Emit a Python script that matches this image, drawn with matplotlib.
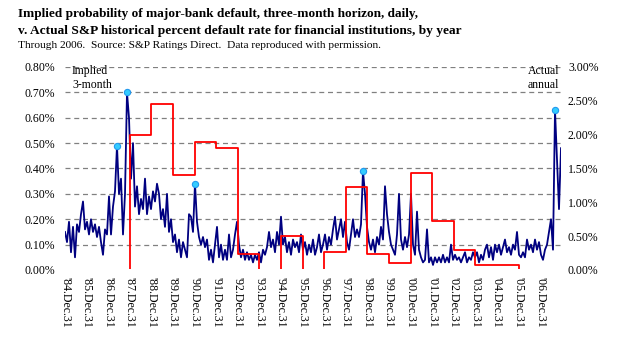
import numpy as np
import matplotlib
matplotlib.use("Agg")
import matplotlib.pyplot as plt
from matplotlib.patches import Rectangle

plt.rcParams['font.family'] = ['Liberation Serif', 'DejaVu Serif']

# implied 3-month default probability (%), late 1984 to 2007
implied = [
    0.15, 0.11, 0.19, 0.07, 0.17, 0.05, 0.18, 0.15, 0.22, 0.27,
    0.16, 0.19, 0.14, 0.20, 0.15, 0.18, 0.13, 0.17, 0.11, 0.06,
    0.16, 0.14, 0.29, 0.14, 0.25, 0.31, 0.49, 0.30, 0.36, 0.14,
    0.30, 0.70, 0.60, 0.36, 0.50, 0.25, 0.33, 0.22, 0.28, 0.24,
    0.36, 0.22, 0.29, 0.24, 0.31, 0.27, 0.34, 0.30, 0.20, 0.24,
    0.17, 0.30, 0.15, 0.20, 0.11, 0.14, 0.07, 0.12, 0.05, 0.11,
    0.08, 0.05, 0.22, 0.21, 0.15, 0.34, 0.19, 0.13, 0.10, 0.13,
    0.09, 0.12, 0.04, 0.08, 0.03, 0.10, 0.17, 0.05, 0.10, 0.04,
    0.08, 0.04, 0.14, 0.05, 0.08, 0.14, 0.19, 0.10, 0.05, 0.08,
    0.04, 0.07, 0.04, 0.06, 0.03, 0.06, 0.04, 0.07, 0.03, 0.08,
    0.06, 0.09, 0.15, 0.09, 0.12, 0.07, 0.15, 0.10, 0.21, 0.10,
    0.13, 0.07, 0.11, 0.06, 0.12, 0.09, 0.11, 0.07, 0.14, 0.08,
    0.11, 0.06, 0.10, 0.07, 0.12, 0.06, 0.09, 0.14, 0.07, 0.10,
    0.14, 0.08, 0.13, 0.10, 0.16, 0.21, 0.12, 0.16, 0.20, 0.13,
    0.19, 0.11, 0.08, 0.14, 0.20, 0.13, 0.16, 0.13, 0.18, 0.39,
    0.30, 0.17, 0.11, 0.08, 0.12, 0.07, 0.13, 0.10, 0.17, 0.12,
    0.33, 0.22, 0.15, 0.10, 0.08, 0.06, 0.14, 0.30, 0.12, 0.08,
    0.13, 0.09, 0.14, 0.30, 0.10, 0.06, 0.23, 0.08, 0.05, 0.03,
    0.04, 0.16, 0.03, 0.05, 0.02, 0.05, 0.03, 0.05, 0.03, 0.06,
    0.03, 0.05, 0.03, 0.10, 0.04, 0.06, 0.04, 0.05, 0.03, 0.05,
    0.07, 0.03, 0.05, 0.04, 0.07, 0.05, 0.07, 0.03, 0.06, 0.04,
    0.08, 0.10, 0.05, 0.09, 0.04, 0.10, 0.07, 0.10, 0.06, 0.09,
    0.12, 0.07, 0.09, 0.06, 0.10, 0.08, 0.15, 0.06, 0.05, 0.07,
    0.05, 0.12, 0.08, 0.10, 0.07, 0.12, 0.08, 0.11, 0.06, 0.04,
    0.08, 0.10, 0.15, 0.20, 0.08, 0.63, 0.43, 0.24, 0.48,
]
t_start, t_end = 1985.0, 2007.963
dates = np.linspace(t_start, t_end, len(implied))

# highlighted peaks
peak_dates = [1987.41, 1987.87, 1991.02, 1998.80, 2007.69]
peak_vals = [0.49, 0.70, 0.34, 0.39, 0.63]

# actual annual S&P default rate, financial institutions (%), calendar years
years = list(range(1985, 2007))
actual = [0.0, 0.0, 0.0, 1.99, 2.45, 1.41, 1.89, 1.81, 0.24, 0.0, 0.50,
          0.0, 0.27, 1.22, 0.24, 0.11, 1.43, 0.73, 0.30, 0.08, 0.08, 0.0]

tick_pos = list(range(1985, 2008))
tick_lbl = ["'%02d.Dec.31" % (y % 100) for y in range(1984, 2007)]

fig = plt.figure(figsize=(6.19, 3.44), dpi=100)
ax = fig.add_axes([65/619, 1 - 270/344, 496/619, 203/344])
ax2 = ax.twinx()

ax.plot(dates, implied, color='#000080', lw=1.3, zorder=2)
ax.plot(peak_dates, peak_vals, ls='none', marker='o', ms=4.5,
        mfc='#33CCFF', mec='#2299EE', mew=0.8, zorder=5)

edges = years + [years[-1] + 1]
line, = ax2.step(edges, actual + [actual[-1]], where='post', color='red', lw=1.3)
clip = Rectangle((0, 0.006), 1, 0.994, transform=ax2.transAxes)
line.set_clip_path(clip)

ax.set_xlim(t_start, t_end)
ax.set_ylim(0, 0.8)
ax2.set_ylim(0, 3.0)
ax.set_yticks(np.arange(0, 0.81, 0.1))
ax.set_yticklabels(['%.2f%%' % v for v in np.arange(0, 0.81, 0.1)])
ax2.set_yticks(np.arange(0, 3.01, 0.5))
ax2.set_yticklabels(['%.2f%%' % v for v in np.arange(0, 3.01, 0.5)])
ax.set_xticks(tick_pos)
ax.set_xticklabels(tick_lbl, rotation=270)

ax.grid(axis='y', color='#808080', ls=(0, (4, 3)), lw=0.9)
ax.get_ygridlines()[0].set_visible(False)
ax.set_axisbelow(True)

for a in (ax, ax2):
    for s in a.spines.values():
        s.set_visible(False)
ax.tick_params(axis='x', length=0, pad=5, labelsize=8.5)
ax.tick_params(axis='y', length=0, pad=7, labelsize=8.5)
ax2.tick_params(axis='y', length=0, pad=5, labelsize=8.5)

fig.text(18/619, 1 - 14/344, 'Implied probability of major-bank default, three-month horizon, daily,',
         fontsize=9.5, fontweight='bold', va='center')
fig.text(18/619, 1 - 31/344, 'v. Actual S&P historical percent default rate for financial institutions, by year',
         fontsize=9.6, fontweight='bold', va='center')
fig.text(18/619, 1 - 46/344, 'Through 2006.  Source: S&P Ratings Direct.  Data reproduced with permission.',
         fontsize=8.2, va='center')
fig.text(72/619, 1 - 65/344, 'Implied\n3-month', fontsize=8.5, va='top')
fig.text(528/619, 1 - 65/344, 'Actual\nannual', fontsize=8.5, va='top')

fig.savefig('out.png', dpi=100)
